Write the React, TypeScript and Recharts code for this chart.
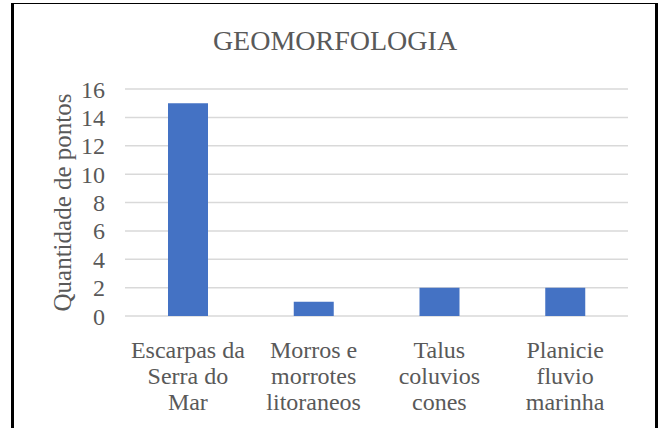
import { BarChart, Bar, XAxis, YAxis, CartesianGrid } from 'recharts'

const categories = [
  'Escarpas da\nSerra do\nMar',
  'Morros e\nmorrotes\nlitoraneos',
  'Talus\ncoluvios\ncones',
  'Planicie\nfluvio\nmarinha',
]
const pontos = [15, 1, 2, 2]
const yTicks = [0, 2, 4, 6, 8, 10, 12, 14, 16]

const data = categories.map((name, i) => ({ name, value: pontos[i] }))

const FONT = '"Liberation Serif", "Times New Roman", serif'
const TEXT = '#595959'

const CategoryTick = ({ x, y, payload }: any) => {
  const lines = String(payload.value).split('\n')
  return (
    <text
      x={x}
      y={y + 42}
      textAnchor="middle"
      fill={TEXT}
      fontFamily={FONT}
      fontSize={24}
    >
      {lines.map((line, i) => (
        <tspan key={i} x={x} dy={i === 0 ? 0 : 26}>
          {line}
        </tspan>
      ))}
    </text>
  )
}

const AxisTitle = ({ viewBox }: any) => {
  const cx = viewBox.x + viewBox.width / 2
  const cy = viewBox.y + viewBox.height / 2
  return (
    <text
      x={cx}
      y={cy}
      transform={`rotate(-90 ${cx} ${cy})`}
      textAnchor="middle"
      dominantBaseline="central"
      fill={TEXT}
      fontFamily={FONT}
      fontSize={25}
    >
      Quantidade de pontos
    </text>
  )
}

export default function App() {
  return (
    <div
      style={{
        position: 'absolute',
        left: 0,
        top: 0,
        width: 660,
        height: 428,
        overflow: 'hidden',
        background: '#fff',
      }}
    >
      {/* frame */}
      <div
        style={{
          position: 'absolute',
          left: 11,
          top: 3,
          width: 641,
          height: 440,
          borderLeft: '3px solid #000',
          borderTop: '1.5px solid #000',
          borderRight: '3px solid #000',
        }}
      />
      <div
        style={{
          position: 'absolute',
          left: 10,
          top: 27,
          width: 650,
          textAlign: 'center',
          fontFamily: FONT,
          fontSize: 28,
          lineHeight: '28px',
          color: TEXT,
        }}
      >
        GEOMORFOLOGIA
      </div>
      <div style={{ position: 'absolute', left: 0, top: 0 }}>
        <BarChart
          width={660}
          height={428}
          data={data}
          margin={{ top: 89, right: 32, bottom: 0, left: 0 }}
        >
          <CartesianGrid
            vertical={false}
            stroke="#d9d9d9"
            strokeWidth={1.5}
          />
          <XAxis
            dataKey="name"
            height={112}
            axisLine={false}
            tickLine={false}
            tickSize={0}
            tickMargin={0}
            interval={0}
            tick={<CategoryTick />}
          />
          <YAxis
            width={125}
            domain={[0, 16]}
            ticks={yTicks}
            interval={0}
            axisLine={false}
            tickLine={false}
            tickSize={0}
            tickMargin={20}
            tick={{ fill: TEXT, fontFamily: FONT, fontSize: 24 }}
            label={{ content: <AxisTitle /> }}
          />
          <Bar
            dataKey="value"
            fill="#4472c4"
            barSize={40}
            isAnimationActive={false}
          />
        </BarChart>
      </div>
    </div>
  )
}
